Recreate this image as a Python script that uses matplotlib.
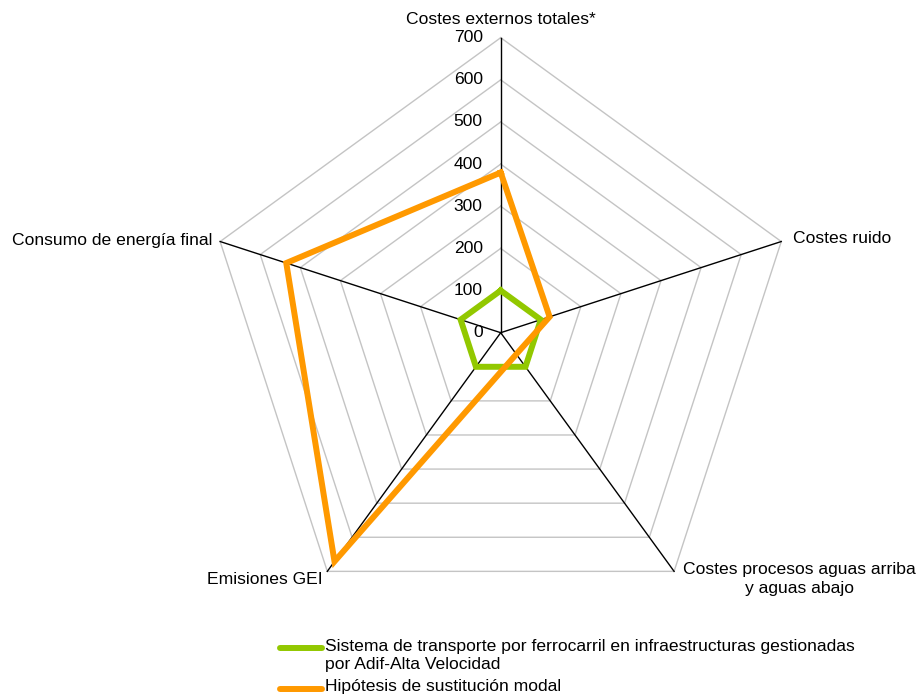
# Grafico radar: costes externos ferrocarril vs hipotesis de sustitucion modal

import numpy as np
import matplotlib
matplotlib.use('Agg')
import matplotlib.pyplot as plt
from matplotlib.lines import Line2D

plt.rcParams['font.family'] = ['Liberation Sans', 'DejaVu Sans']

# Seccion 1: Datos

categorias = ['Costes externos totales*', 'Costes ruido',
              'Costes procesos aguas arriba\ny aguas abajo',
              'Emisiones GEI', 'Consumo de energía final']
ferrocarril = [100, 100, 100, 100, 100]
sustitucion = [380, 122, 63, 671, 535]
niveles = [0, 100, 200, 300, 400, 500, 600, 700]
serie_nombres = ['Sistema de transporte por ferrocarril en infraestructuras gestionadas\npor Adif-Alta Velocidad',
                 'Hipótesis de sustitución modal']

verde = '#92c800'
naranja = '#ff9900'
fs = 12.6

# Seccion 2: Grafica

n = len(categorias)
ang = np.pi/2 - 2*np.pi*np.arange(n)/n   # sentido horario desde arriba
cx, cy = np.cos(ang), np.sin(ang)
rmax = niveles[-1]

def xy(valores):
    v = np.asarray(valores, dtype=float)
    x = np.append(v*cx, v[0]*cx[0])
    y = np.append(v*cy, v[0]*cy[0])
    return x, y

fig = plt.figure(figsize=(9.16, 7), dpi=100)
ax = fig.add_axes([0, 0, 1, 1])

# escala: 700 -> 295 px, centro en (500.7, 332.7) px
k = 295/rmax
W, H = 916, 700
ax.set_xlim(-500.7/k, (W-500.7)/k)
ax.set_ylim(-(H-332.7)/k, 332.7/k)
ax.axis('off')

# anillos de la cuadricula
for r in niveles[1:]:
    gx, gy = xy([r]*n)
    ax.plot(gx, gy, color='#c4c4c4', lw=1.0, zorder=1)

# radios
for i in range(n):
    ax.plot([0, rmax*cx[i]], [0, rmax*cy[i]], color='black', lw=1.0, zorder=2)

# etiquetas de escala
for r in niveles:
    ax.text(-18/k, r, str(r), ha='right', va='center', fontsize=fs, zorder=3)

# series
x1, y1 = xy(ferrocarril)
ax.plot(x1, y1, color=verde, lw=4.3, solid_joinstyle='miter', zorder=4)
x2, y2 = xy(sustitucion)
ax.plot(x2, y2, color=naranja, lw=4.3, solid_joinstyle='miter', zorder=5)

# etiquetas de categorias
ax.text(0, rmax + 11/k, categorias[0], ha='center', va='bottom', fontsize=fs)
ax.text(rmax*cx[1] + 12/k, rmax*cy[1] + 3/k, categorias[1], ha='left', va='center', fontsize=fs)
ax.text(rmax*cx[2] + 9/k, rmax*cy[2] + 9/k, categorias[2], ha='left', va='top',
        multialignment='center', fontsize=fs, linespacing=1.3)
ax.text(rmax*cx[3] - 5/k, rmax*cy[3] - 1/k, categorias[3], ha='right', va='top', fontsize=fs)
ax.text(rmax*cx[4] - 8/k, rmax*cy[4] + 1/k, categorias[4], ha='right', va='center', fontsize=fs)

# leyenda manual
for j, (nombre, col) in enumerate(zip(serie_nombres, [verde, naranja])):
    ypx = 648 if j == 0 else 689
    yf = 1 - ypx/H
    fig.add_artist(Line2D([280/W, 322/W], [yf, yf], color=col, lw=4.3,
                          solid_capstyle='round', transform=fig.transFigure))
    fig.text(325/W, 1 - (ypx - 9.5)/H, nombre, ha='left', va='top', fontsize=fs,
             linespacing=1.3)

fig.savefig('out.png', dpi=100)
